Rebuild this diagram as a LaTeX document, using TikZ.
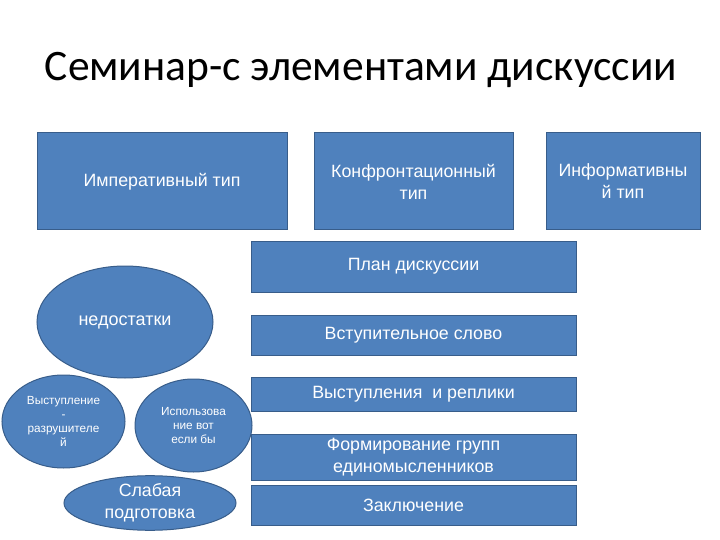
\documentclass[tikz,border=0pt]{standalone}
\usepackage{fontspec}
\usetikzlibrary{shapes.geometric}
\setmainfont{Liberation Sans}
\newfontfamily\titlefont{Carlito}
\definecolor{boxblue}{HTML}{4F81BD}
\definecolor{edgeblue}{HTML}{385D8A}
\begin{document}
\begin{tikzpicture}[
  x=1pt, y=-1pt,
  block/.style={rectangle, fill=boxblue, draw=edgeblue, line width=1pt,
    text=white, align=center, inner sep=2pt,
    font=\fontsize{17.8}{22}\selectfont},
  blob/.style={ellipse, fill=boxblue, draw=edgeblue, line width=1pt,
    text=white, align=center, inner sep=0pt},
  smalltext/.style={font=\fontsize{11.8}{14.2}\selectfont}
]
  \useasboundingbox (0,0) rectangle (720,540);

  % Title
  \node[font=\titlefont\fontsize{43.5}{48}\selectfont] (title) at (361,70)
    {Семинар-с элементами дискуссии};

  % Three types of seminar on top
  \node[block, minimum width=250, minimum height=97] (imper) at (162,181.5)
    {Императивный тип};
  \node[block, minimum width=199, minimum height=97] (konfr) at (413.5,181.5)
    {Конфронтационный\\тип};
  \node[block, minimum width=154, minimum height=97] (inform) at (623,181.5)
    {Информативны\\й тип};

  % Stages of the discussion
  \node[block, minimum width=325, minimum height=51] (plan) at (413.5,266.5)
    {План дискуссии};
  \node[block, minimum width=325, minimum height=40] (vstup) at (413.5,335)
    {Вступительное слово};
  \node[block, minimum width=325, minimum height=34] (vystup) at (413.5,394)
    {Выступления\ \ и реплики};
  \node[block, minimum width=325, minimum height=46] (form) at (413.5,457)
    {Формирование групп\\единомысленников};
  \node[block, minimum width=325, minimum height=40] (zakl) at (413.5,505)
    {Заключение};

  % Drawbacks
  \node[blob, minimum width=176, minimum height=112,
    font=\fontsize{18}{22}\selectfont] (nedost) at (125,322) {недостатки};
  \node[blob, smalltext, minimum width=123, minimum height=93] (razrush)
    at (63.5,421.5) {Выступление\\-\\разрушителе\\й};
  \node[blob, smalltext, minimum width=117, minimum height=93] (votesli)
    at (193.5,425.5) {Использова\\ние вот\\если бы};
  \node[blob, minimum width=172, minimum height=48,
    font=\fontsize{17.8}{22}\selectfont] (slabaya) at (150,503)
    {Слабая\\подготовка};
\end{tikzpicture}
\end{document}
